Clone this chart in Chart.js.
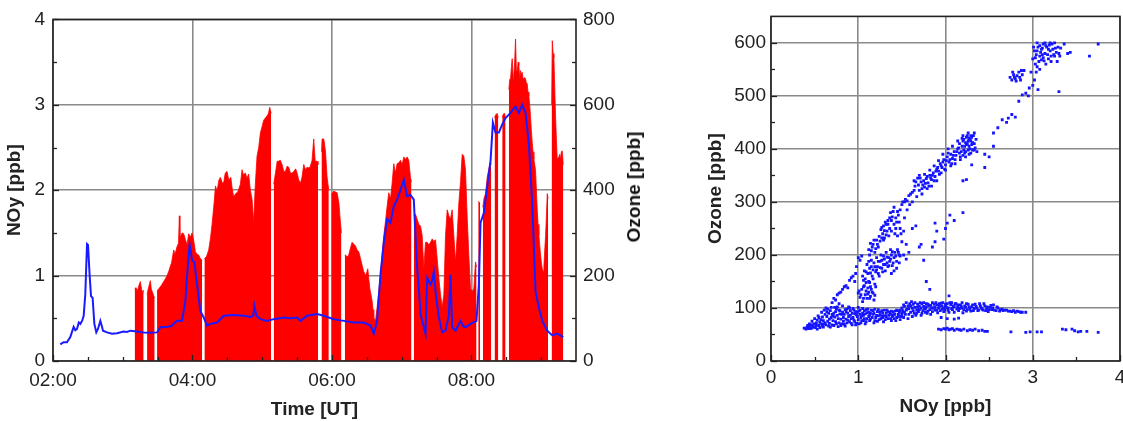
<!DOCTYPE html>
<html><head><meta charset="utf-8">
<script src="https://cdn.jsdelivr.net/npm/chart.js@4.4.0/dist/chart.umd.min.js"></script>
<style>
html,body{margin:0;padding:0;width:1123px;height:421px;overflow:hidden;background:#fff;}
#w1{position:absolute;left:0;top:0;width:660px;height:421px;}
#w2{position:absolute;left:680px;top:0;width:462px;height:421px;}
#o3t{position:absolute;left:634px;top:187px;transform:translate(-50%,-50%) rotate(-90deg);font:bold 19px 'Liberation Sans',Arial,sans-serif;color:#111;white-space:nowrap;}
</style></head><body>
<div id="w1"><canvas id="c1"></canvas></div>
<div id="o3t">Ozone [ppb]</div>
<div id="w2"><canvas id="c2"></canvas></div>
<script>
// ---- NOy time series (hours UT, ppb); null = data gap ----
const redT = [3.171,3.19,3.21,3.23,3.252,3.27,3.29,3.30,3.31,
3.349,3.37,3.396,3.41,3.43,3.445,3.458,3.47,
3.492,3.52,3.55,3.587,3.61,3.636,3.66,3.683,3.70,3.731,3.75,3.779,3.80,3.812,3.82,3.826,3.85,3.874,3.90,3.922,3.946,3.97,3.994,4.02,4.042,4.065,4.089,4.113,4.138,4.15,
4.171,4.20,4.233,4.26,4.281,4.31,4.33,4.353,4.38,4.40,4.43,4.45,4.47,4.496,4.52,4.55,4.57,4.591,4.62,4.65,4.687,4.711,4.73,4.76,4.78,4.806,4.83,4.855,4.878,4.90,4.926,4.95,4.974,5.0,5.021,5.05,5.07,5.09,5.108,5.128,5.14,
5.165,5.19,5.215,5.237,5.26,5.285,5.31,5.333,5.357,5.38,5.405,5.429,5.453,5.48,5.50,5.524,5.548,5.57,5.596,5.62,5.644,5.67,5.69,5.715,5.739,5.76,5.787,5.80,5.825,
5.85,5.859,5.883,5.907,5.931,5.955,5.975,
5.993,6.027,6.05,6.074,6.10,6.122,6.136,6.16,
6.184,6.194,6.22,6.241,6.265,6.289,6.31,6.337,6.36,6.385,6.41,6.433,6.455,6.481,6.50,6.514,6.53,6.543,6.56,6.576,6.59,6.60,6.624,6.648,6.67,6.696,6.72,6.744,6.77,6.791,6.815,6.84,6.863,6.887,6.91,6.935,6.96,6.983,7.007,7.031,7.055,7.078,7.102,7.126,7.141,7.155,
7.174,7.198,7.222,7.246,7.27,7.294,7.318,7.342,7.366,7.39,7.414,7.438,7.461,7.485,7.509,7.533,7.557,7.581,7.605,7.629,7.653,7.677,7.70,7.724,7.748,7.772,7.796,7.82,7.844,7.868,7.891,7.915,7.939,7.963,7.987,8.011,8.035,8.059,8.074,8.085,
8.098,8.11,8.125,8.14,
8.164,8.18,8.203,8.227,8.25,8.275,8.284,8.30,
8.332,8.346,8.37,8.385,8.41,
8.442,8.456,8.475,8.49,8.51,
8.537,8.55,8.561,8.575,8.585,8.60,8.609,8.62,8.633,8.645,8.657,8.67,8.681,8.693,8.705,8.717,8.729,8.741,8.753,8.765,8.777,8.79,8.80,8.812,8.824,8.836,8.848,8.86,8.872,8.884,8.896,8.908,8.92,8.932,8.944,8.956,8.968,8.98,8.992,9.004,9.016,9.028,9.04,9.052,9.064,9.076,9.088,9.10,9.125,
9.15,9.16,9.172,9.183,9.195,9.207,9.219,9.231,9.243,9.255,9.267,9.279,9.29,9.303,9.317];
const redV = [0.84,0.86,0.82,0.88,0.93,0.84,0.80,0.83,null,
0.78,0.86,0.94,0.84,0.80,0.76,0.74,null,
0.82,0.85,0.88,0.93,0.96,1.0,1.05,1.11,1.15,1.3,1.25,1.34,1.38,1.70,1.42,1.45,1.5,1.49,1.42,1.36,1.49,1.45,1.5,1.40,1.28,1.25,1.24,1.2,1.18,null,
1.2,1.22,1.3,1.45,1.6,1.85,2.05,1.99,2.12,2.15,2.08,2.1,2.2,2.22,2.12,2.15,2.02,1.92,1.96,1.98,2.07,2.24,2.18,2.2,2.14,2.19,2.0,1.89,1.62,2.05,2.4,2.5,2.67,2.75,2.82,2.85,2.87,2.9,2.97,2.9,null,
2.07,2.2,2.34,2.34,2.35,2.3,2.22,2.22,2.28,2.27,2.2,2.2,2.22,2.25,2.2,2.12,2.08,2.15,2.3,2.24,2.27,2.26,2.28,2.35,2.6,2.34,2.34,2.3,null,
2.45,2.6,2.6,2.46,2.15,2.0,null,
1.95,1.99,1.98,1.97,1.85,1.62,1.5,null,
1.24,1.24,1.22,1.24,1.32,1.39,1.37,1.35,1.3,1.28,1.2,1.12,1.05,1.0,1.04,1.08,0.95,0.85,0.78,0.7,0.6,0.51,0.47,0.63,0.8,1.0,1.25,1.47,1.65,1.81,1.97,1.9,2.08,2.31,2.2,2.31,2.32,2.35,2.3,2.39,2.36,2.39,2.35,2.15,2.1,null,
1.7,1.72,1.66,1.6,1.58,1.47,1.08,1.39,1.39,1.36,1.39,1.43,1.4,1.42,1.2,0.97,0.78,0.63,0.78,1.47,1.77,1.7,1.66,1.77,1.47,1.16,1.47,1.85,2.1,2.42,2.4,2.24,1.7,1.24,0.85,0.81,0.85,1.16,1.1,null,
1.87,1.86,1.85,null,
1.8,1.9,1.96,2.15,2.25,2.33,2.3,null,
2.85,2.88,2.9,2.85,null,
2.85,2.89,2.9,2.85,null,
3.18,3.3,3.3,3.45,3.54,3.3,3.35,3.5,3.77,3.4,3.4,3.5,3.46,3.3,3.4,3.35,3.38,3.3,3.3,3.32,3.3,3.25,3.25,3.15,3.1,3.0,2.86,2.7,2.56,2.45,2.36,2.3,2.23,2.0,1.77,1.6,1.47,1.35,1.24,1.15,1.08,1.05,1.12,1.3,1.47,1.7,1.96,1.9,null,
3.0,3.75,3.6,3.55,3.2,2.86,2.6,2.36,2.38,2.39,2.42,2.36,2.45,2.46,2.3];

// ---- Ozone time series (hours UT, ppb) ----
const o3T = [2.105,2.152,2.2,2.248,2.296,2.32,2.344,2.37,2.392,2.42,2.44,2.463,2.488,2.502,2.525,2.545,2.568,2.593,2.621,2.645,2.679,2.70,2.717,2.775,2.846,2.918,3.013,3.06,3.109,3.205,3.30,3.396,3.492,3.539,3.636,3.70,3.731,3.779,3.851,3.898,3.931,3.96,3.994,4.027,4.066,4.113,4.161,4.209,4.257,4.353,4.448,4.591,4.735,4.831,4.87,4.888,4.917,4.974,5.07,5.165,5.309,5.40,5.50,5.548,5.644,5.787,5.883,6.027,6.17,6.313,6.457,6.552,6.6,6.648,6.696,6.744,6.791,6.839,6.887,6.935,6.983,7.031,7.054,7.078,7.126,7.174,7.198,7.222,7.246,7.27,7.318,7.342,7.366,7.414,7.44,7.461,7.485,7.533,7.581,7.629,7.677,7.7,7.724,7.772,7.844,7.88,7.915,7.987,8.073,8.107,8.131,8.179,8.227,8.275,8.308,8.346,8.394,8.442,8.49,8.561,8.633,8.681,8.729,8.777,8.824,8.872,8.92,8.968,9.016,9.088,9.16,9.231,9.317];
const o3V = [39,44,44,56,80,72,75,90,87,95,106,156,274,272,202,152,148,87,67,75,94,82,71,67,64,65,69,68,71,69,67,66,67,79,80,82,87,94,94,140,217,272,236,232,179,117,102,83,87,90,106,108,106,103,106,129,106,98,94,98,102,100,102,94,106,110,106,98,94,90,90,83,64,94,202,278,332,324,363,378,401,424,405,386,389,378,294,217,171,110,79,64,194,179,190,209,163,102,67,71,106,202,79,71,94,82,79,87,94,179,324,347,409,470,558,535,535,554,569,581,596,581,600,581,508,370,163,125,94,71,60,64,56];

// ---- Scatter: [NOy ppb, Ozone ppb] ----
const scatterPts = [
[0.38,62],[0.40,60],[0.42,64],[0.44,70],[0.45,61],[0.47,75],[0.48,66],[0.50,80],[0.51,63],[0.52,72],[0.54,85],[0.55,67],[0.57,78],[0.58,92],[0.60,64],[0.61,70],[0.62,88],[0.63,100],[0.65,75],[0.66,66],[0.68,95],[0.69,82],[0.70,68],[0.72,90],[0.73,101],[0.74,74],[0.76,86],[0.77,65],[0.78,96],[0.80,79],[0.81,70],[0.82,104],[0.84,88],[0.85,66],[0.86,93],[0.88,77],[0.89,84],[0.90,100],[0.92,71],[0.93,90],[0.94,82],[0.95,96],[0.97,68],[0.98,87],[1.00,78],[1.01,94],[1.03,72],[1.04,85],[1.05,99],[1.07,80],[1.08,70],[1.10,91],[1.12,84],[1.13,76],[1.15,96],[1.17,88],[1.18,72],[1.20,82],[1.22,93],[1.24,78],[1.25,87],[1.27,95],[1.29,74],[1.30,85],[1.32,90],[1.34,80],[1.36,92],[1.38,76],[1.40,86],[1.42,94],[1.44,82],[1.46,88],[1.48,78],[1.50,91],
[0.42,67],[0.46,68],[0.53,60],[0.56,73],[0.59,83],[0.64,93],[0.67,79],[0.71,85],[0.75,98],[0.79,89],[0.83,75],[0.87,98],[0.91,86],[0.96,74],[0.99,92],[1.02,88],[1.06,76],[1.09,97],[1.14,90],[1.19,98],[1.23,85],[1.28,82],[1.33,96],[1.37,88],[1.41,80],[1.45,95],[1.49,84],
[0.41,63],[0.43,61],[0.45,66],[0.47,62],[0.49,70],[0.50,64],[0.52,67],[0.53,77],[0.55,82],[0.56,63],[0.58,70],[0.59,66],[0.60,76],[0.61,96],[0.62,72],[0.63,68],[0.64,84],[0.65,98],[0.66,90],[0.67,71],[0.68,64],[0.69,101],[0.70,88],[0.71,76],[0.72,67],[0.73,83],[0.74,93],[0.75,70],[0.76,102],[0.77,80],[0.78,72],[0.79,95],[0.80,67],[0.81,88],[0.82,92],[0.83,82],[0.84,69],[0.85,97],[0.86,79],[0.87,72],[0.88,90],[0.89,102],[0.90,74],[0.91,95],[0.92,80],[0.93,68],[0.94,99],[0.95,77],[0.96,89],[0.97,93],[0.98,71],[0.99,84],[1.00,101],[1.01,70],[1.02,96],[1.03,82],[1.04,76],[1.05,90],[1.06,86],[1.07,95],[1.08,89],[1.09,74],[1.10,80],[1.11,98],[1.12,92],[1.13,86],[1.14,79],[1.16,82],[1.17,95],[1.18,90],[1.19,76],[1.21,86],[1.22,75],[1.23,97],[1.25,92],[1.26,80],[1.27,84],[1.28,90],[1.30,96],[1.31,78],[1.32,84],[1.34,93],[1.35,86],[1.37,80],[1.38,94],[1.39,84],[1.40,92],[1.42,88],[1.43,76],[1.44,96],[1.46,84],[1.47,92],[1.48,96],[1.50,86],
[0.72,118],[0.76,125],[0.80,130],[0.84,140],[0.88,138],[0.92,157],[0.96,150],[1.00,195],[1.04,198],[0.70,110],[0.78,108],[0.98,178],[1.02,190],
[0.74,115],[0.78,128],[0.82,135],[0.86,142],[0.90,152],[0.94,160],[0.97,165],
[1.50,100],[1.52,106],[1.53,92],[1.55,110],[1.56,98],[1.58,88],[1.60,104],[1.61,112],[1.63,95],[1.65,101],[1.66,86],[1.68,107],[1.70,97],[1.71,110],[1.73,90],[1.75,103],[1.76,99],[1.78,108],[1.80,94],[1.81,104],[1.83,88],[1.85,110],[1.86,100],[1.88,96],[1.90,106],[1.91,91],[1.93,103],[1.95,109],[1.96,98],[1.98,93],[2.00,107],[2.01,101],[2.03,96],[2.04,123],[2.05,110],[2.07,99],[2.09,104],[2.10,92],[2.12,108],[2.14,101],[2.15,95],[2.17,106],[2.19,100],[2.20,91],[2.22,104],[2.24,108],[2.25,97],[2.27,102],[2.29,94],[2.31,106],[2.33,99],[2.35,103],[2.37,95],[2.39,108],[2.41,100],[2.43,96],[2.45,104],[2.47,98],[2.49,93],[2.51,101],[2.53,97],[2.55,106],[2.58,95],[2.60,100],[2.62,94],[2.65,98],[2.68,96],[2.72,94],[2.76,93],[2.80,92],[2.84,93],[2.88,92],[2.92,92],
[1.51,95],[1.53,103],[1.54,88],[1.55,96],[1.57,104],[1.58,99],[1.59,108],[1.60,92],[1.62,100],[1.63,107],[1.64,90],[1.65,110],[1.67,96],[1.68,101],[1.69,93],[1.70,104],[1.72,100],[1.73,108],[1.74,95],[1.75,110],[1.77,98],[1.78,102],[1.79,90],[1.80,107],[1.82,97],[1.83,105],[1.84,100],[1.85,93],[1.87,107],[1.88,101],[1.89,110],[1.90,96],[1.92,100],[1.93,108],[1.94,95],[1.96,104],[1.97,110],[1.98,100],[1.99,96],[2.00,103],[2.02,108],[2.03,100],[2.04,92],[2.06,106],[2.07,110],[2.08,97],[2.10,102],[2.11,108],[2.13,98],[2.14,106],[2.16,99],[2.18,104],[2.19,110],[2.21,97],[2.23,101],[2.24,94],[2.26,107],[2.28,98],[2.30,102],[2.32,95],[2.34,107],[2.36,100],[2.38,96],[2.40,104],[2.42,98],[2.44,108],[2.46,95],[2.48,102],[2.50,97],[2.52,105],[2.54,100],[2.56,96],[2.59,102],[2.63,97],[2.66,95],[2.70,96],[2.74,94],[2.78,95],[2.82,94],[2.86,92],
[1.52,82],[1.57,80],[1.62,84],[1.67,90],[1.72,86],[1.77,92],[1.95,82],[2.02,80],[2.10,79],[2.15,81],
[1.92,60],[1.95,59],[1.98,61],[2.00,60],[2.02,62],[2.04,59],[2.06,60],[2.08,61],[2.10,58],[2.13,60],[2.16,59],[2.18,58],[2.21,60],[2.25,57],[2.28,59],[2.31,58],[2.34,60],[2.38,57],[2.42,58],[2.45,56],[2.48,56],[2.75,55],[2.92,54],[2.97,55],[3.05,55],[3.10,55],[3.34,60],[3.38,59],[3.45,60],[3.48,57],[3.52,55],[3.55,56],[3.62,56],[3.75,54],
[1.00,128],[1.02,120],[1.04,135],[1.05,112],[1.07,142],[1.08,125],[1.10,118],[1.11,138],[1.12,130],[1.13,148],[1.14,122],[1.15,135],[1.17,128],[1.18,115],[1.20,140],[1.05,160],[1.07,170],[1.08,155],[1.10,182],[1.11,165],[1.12,150],[1.13,175],[1.15,190],[1.16,160],[1.17,172],[1.18,185],[1.20,168],[1.21,195],[1.22,178],[1.24,160],[1.25,188],[1.26,200],[1.27,175],[1.28,168],[1.30,192],[1.31,182],[1.32,205],[1.33,196],[1.34,178],[1.36,188],[1.37,210],[1.38,200],[1.40,185],[1.42,205],[1.43,198],[1.45,210],[1.47,200],[1.12,210],[1.14,222],[1.16,215],[1.18,228],[1.20,212],[1.22,220],[1.24,235],[1.26,248],[1.28,240],[1.29,255],[1.30,232],[1.31,262],[1.33,245],[1.34,258],[1.35,236],[1.36,270],[1.38,265],[1.40,282],[1.41,258],[1.42,240],[1.44,262],[1.45,236],[1.46,275],[1.48,250],[1.50,295],[1.53,300],[1.56,302],[1.58,312],[1.62,318],[1.65,330],[1.68,345],[1.70,322],[1.72,338],[1.74,332],[1.76,328],[1.78,344],[1.80,336],[1.82,350],[1.84,342],[1.86,355],[1.88,348],[1.90,362],[1.92,358],[1.94,372],[1.96,365],[1.98,380],[2.00,370],[2.02,385],[2.04,375],[2.06,390],[2.08,382],[2.10,395],[2.12,388],[2.14,400],[2.16,410],[2.18,395],[2.20,415],[2.22,405],[2.24,422],[2.25,410],[2.26,398],[2.28,418],[2.30,408],[2.32,425],[2.34,402],[2.20,388],[2.16,392],[2.28,400],[2.36,395],
[1.01,132],[1.03,125],[1.06,118],[1.06,140],[1.09,132],[1.09,148],[1.11,126],[1.13,118],[1.14,140],[1.16,130],[1.19,124],[1.19,145],[1.06,152],[1.09,168],[1.12,188],[1.14,166],[1.15,178],[1.17,155],[1.19,178],[1.21,172],[1.23,188],[1.23,165],[1.25,176],[1.27,190],[1.29,182],[1.29,198],[1.31,170],[1.33,185],[1.35,195],[1.35,180],[1.37,192],[1.39,206],[1.39,180],[1.41,195],[1.44,188],[1.46,205],[1.48,198],[1.13,200],[1.15,208],[1.17,220],[1.19,205],[1.21,228],[1.23,215],[1.25,226],[1.27,232],[1.27,252],[1.29,228],[1.30,246],[1.32,258],[1.32,238],[1.34,265],[1.36,250],[1.37,280],[1.38,245],[1.39,272],[1.41,290],[1.43,270],[1.43,250],[1.45,282],[1.47,262],[1.49,240],[1.48,285],[1.51,300],[1.54,305],[1.60,315],[1.64,322],[1.66,338],[1.69,332],[1.71,345],[1.73,325],[1.75,340],[1.77,335],[1.79,348],[1.81,330],[1.83,345],[1.85,350],[1.87,340],[1.89,358],[1.91,365],[1.93,352],[1.95,368],[1.97,375],[1.99,362],[2.01,378],[2.03,392],[2.05,380],[2.07,372],[2.09,388],[2.11,380],[2.13,395],[2.15,402],[2.17,385],[2.19,405],[2.21,398],[2.23,412],[2.23,395],[2.25,425],[2.27,405],[2.29,415],[2.31,398],[2.33,410],[2.35,418],[2.27,390],[2.19,420],[2.30,422],
[1.62,300],[1.64,340],[1.67,310],[1.70,350],[1.73,315],[1.76,352],[1.79,325],[1.82,360],[1.84,330],[1.87,368],[1.90,340],[1.92,378],[1.95,355],[1.97,390],[2.00,360],[2.03,400],[2.06,368],[2.08,405],[2.11,372],[2.14,415],[2.17,380],[2.20,425],[2.23,385],[2.26,430],[2.29,392],[2.33,430],[1.56,285],[1.59,295],[1.53,270],[1.52,245],[1.50,225],[1.52,200],[1.55,192],[1.47,185],[1.44,175],[1.41,170],[1.38,165],
[2.21,418],[2.24,408],[2.26,415],[2.29,425],[2.31,412],[2.33,398],[2.22,392],[2.27,420],
[2.45,390],[2.50,385],[2.55,405],[2.45,365],[2.30,370],[1.55,220],[1.58,205],[1.62,250],[1.66,255],[1.70,215],[1.72,220],[1.75,190],[1.78,150],[1.82,135],[1.85,215],[1.88,225],[1.90,245],[1.88,260],[1.98,230],[2.00,250],[2.02,260],[2.05,275],[2.10,265],[2.20,280],[2.20,340],[2.24,342],
[2.55,430],[2.60,440],[2.65,455],[2.70,450],[2.72,458],[2.76,465],[2.80,460],[2.84,490],[2.88,502],[2.92,505],[2.95,500],[2.96,515],[2.74,535],[2.76,530],[2.78,540],[2.80,532],[2.82,538],[2.84,545],[2.86,530],[2.88,540],[2.90,548],[3.00,520],[3.02,530],[3.04,545],[3.05,555],[3.06,512],[3.08,550],[3.30,508],[3.00,570],[3.02,585],[3.04,578],[3.06,592],[3.08,575],[3.10,588],[3.12,598],[3.14,580],[3.16,592],[3.18,570],[3.20,585],[3.22,598],[3.24,578],[3.26,590],[3.28,565],[3.30,580],[3.15,560],[3.10,568],[3.20,600],[3.05,600],[3.36,598],[3.40,580],[3.43,582],[3.65,575],[3.75,598],[3.12,572],[3.18,588],[3.25,575],[3.08,595],
[3.01,592],[3.03,572],[3.05,585],[3.07,565],[3.09,582],[3.11,590],[3.13,566],[3.15,595],[3.17,578],[3.19,596],[3.21,575],[3.23,588],[3.25,600],[3.27,582],[3.29,592],[3.31,575],[3.32,590],[3.11,578],[3.14,600],[3.21,565],[2.98,545],[3.03,560],[2.77,545],[2.81,528],[2.85,535],[2.87,548],[2.79,535]
];

// ---- Tick values ----
const timeTicks = [2,4,6,8];
const timeMinor = [2.5,3,3.5,4.5,5,5.5,6.5,7,7.5,8.5,9];
const noyTicks = [0,1,2,3,4];
const noyMinor = [0.5,1.5,2.5,3.5];
const o3Ticks = [0,200,400,600,800];
const o3Minor = [100,300,500,700];
const scXTicks = [0,1,2,3,4];
const scXMinor = [0.5,1.5,2.5,3.5];
const scYTicks = [0,100,200,300,400,500,600];
const scYMinor = [50,150,250,350,450,550];

const FONT = "'Liberation Sans', Arial, sans-serif";
const tickFont = {family: FONT, size: 19};
const titleFont = {family: FONT, size: 19, weight: 'bold'};
const TXT = '#222';
const GRID = '#8a8a8a';

const setTicks = arr => s => { s.ticks = arr.map(v => ({value: v})); };

const frame = {
  id: 'frame',
  afterDatasetsDraw(chart, args, opts) {
    const {ctx, chartArea: a} = chart;
    ctx.save();
    ctx.strokeStyle = '#222';
    ctx.lineWidth = 1.3;
    (opts.marks || []).forEach(m => {
      const s = chart.scales[m.scale];
      m.values.forEach(v => {
        const p = Math.round(s.getPixelForValue(v)) + 0.5;
        ctx.beginPath();
        if (m.side === 'left') { ctx.moveTo(a.left, p); ctx.lineTo(a.left + m.len, p); }
        else if (m.side === 'right') { ctx.moveTo(a.right, p); ctx.lineTo(a.right - m.len, p); }
        else { ctx.moveTo(p, a.bottom); ctx.lineTo(p, a.bottom - m.len); }
        ctx.stroke();
      });
    });
    ctx.lineWidth = 1.6;
    ctx.strokeRect(a.left, a.top, a.right - a.left, a.bottom - a.top);
    ctx.restore();
  }
};

const hhmm = v => String(Math.floor(v)).padStart(2, '0') + ':00';

new Chart(document.getElementById('c1'), {
  type: 'line',
  data: {
    datasets: [
      {label: 'Ozone', yAxisID: 'y2', order: 0,
       data: o3T.map((t, i) => ({x: t, y: o3V[i]})),
       borderColor: '#1a1aff', borderWidth: 2, pointRadius: 0, fill: false, tension: 0},
      {label: 'NOy', yAxisID: 'y', order: 1,
       data: redT.map((t, i) => ({x: t, y: redV[i]})),
       borderColor: '#ff0000', backgroundColor: '#ff0000', borderWidth: 0.8,
       pointRadius: 0, fill: 'origin', spanGaps: false, tension: 0}
    ]
  },
  options: {
    responsive: true, maintainAspectRatio: false, animation: false,
    layout: {padding: {top: 13, left: 0, right: 0, bottom: 0}},
    plugins: {legend: {display: false}, tooltip: {enabled: false},
      frame: {marks: [
        {scale: 'y', side: 'left', values: noyTicks, len: 6},
        {scale: 'y', side: 'left', values: noyMinor, len: 4},
        {scale: 'y2', side: 'right', values: o3Ticks, len: 6},
        {scale: 'y2', side: 'right', values: o3Minor, len: 4},
        {scale: 'x', side: 'bottom', values: timeTicks, len: 6},
        {scale: 'x', side: 'bottom', values: timeMinor, len: 4}
      ]}},
    scales: {
      x: {type: 'linear', position: 'bottom', min: 2, max: 9.5,
        afterBuildTicks: setTicks(timeTicks),
        afterFit: s => { s.height = 60; },
        ticks: {callback: hhmm, font: tickFont, color: TXT, padding: 8, maxRotation: 0, autoSkip: false},
        grid: {color: GRID, lineWidth: 1.6, drawTicks: false},
        border: {display: false},
        title: {display: true, text: 'Time [UT]', font: titleFont, color: TXT, padding: {top: 0, bottom: 0}}},
      y: {type: 'linear', position: 'left', min: 0, max: 4,
        afterBuildTicks: setTicks(noyTicks),
        afterFit: s => { s.width = 53; },
        ticks: {font: tickFont, color: TXT, padding: 8},
        grid: {color: GRID, lineWidth: 1.6, drawTicks: false},
        border: {display: false},
        title: {display: true, text: 'NOy [ppb]', font: titleFont, color: TXT, padding: {top: 3, bottom: 0}}},
      y2: {type: 'linear', position: 'right', min: 0, max: 800,
        afterBuildTicks: setTicks(o3Ticks),
        afterFit: s => { s.width = 84; },
        ticks: {font: tickFont, color: TXT, padding: 7},
        grid: {display: false, drawTicks: false},
        border: {display: false}}
    }
  },
  plugins: [frame]
});

new Chart(document.getElementById('c2'), {
  type: 'scatter',
  data: {
    datasets: [{label: 'O3 vs NOy',
      data: scatterPts.map(p => ({x: p[0], y: p[1]})),
      backgroundColor: '#1414ff', borderWidth: 0, pointRadius: 2, pointStyle: 'rect'}]
  },
  options: {
    responsive: true, maintainAspectRatio: false, animation: false,
    layout: {padding: {top: 13, left: 0, right: 22, bottom: 0}},
    plugins: {legend: {display: false}, tooltip: {enabled: false},
      frame: {marks: [
        {scale: 'y', side: 'left', values: scYTicks, len: 6},
        {scale: 'y', side: 'left', values: scYMinor, len: 4},
        {scale: 'x', side: 'bottom', values: scXTicks, len: 6},
        {scale: 'x', side: 'bottom', values: scXMinor, len: 4}
      ]}},
    scales: {
      x: {type: 'linear', position: 'bottom', min: 0, max: 4,
        afterBuildTicks: setTicks(scXTicks),
        afterFit: s => { s.height = 60; },
        ticks: {font: tickFont, color: TXT, padding: 5, maxRotation: 0, autoSkip: false},
        grid: {color: GRID, lineWidth: 1.6, drawTicks: false},
        border: {display: false},
        title: {display: true, text: 'NOy [ppb]', font: titleFont, color: TXT, padding: {top: 0, bottom: 3}}},
      y: {type: 'linear', position: 'left', min: 0, max: 650,
        afterBuildTicks: setTicks(scYTicks),
        afterFit: s => { s.width = 91; },
        ticks: {font: tickFont, color: TXT, padding: 5},
        grid: {color: GRID, lineWidth: 1.6, drawTicks: false},
        border: {display: false},
        title: {display: true, text: 'Ozone [ppb]', font: titleFont, color: TXT, padding: {top: 24, bottom: 0}}}
    }
  },
  plugins: [frame]
});
</script>
</body></html>
